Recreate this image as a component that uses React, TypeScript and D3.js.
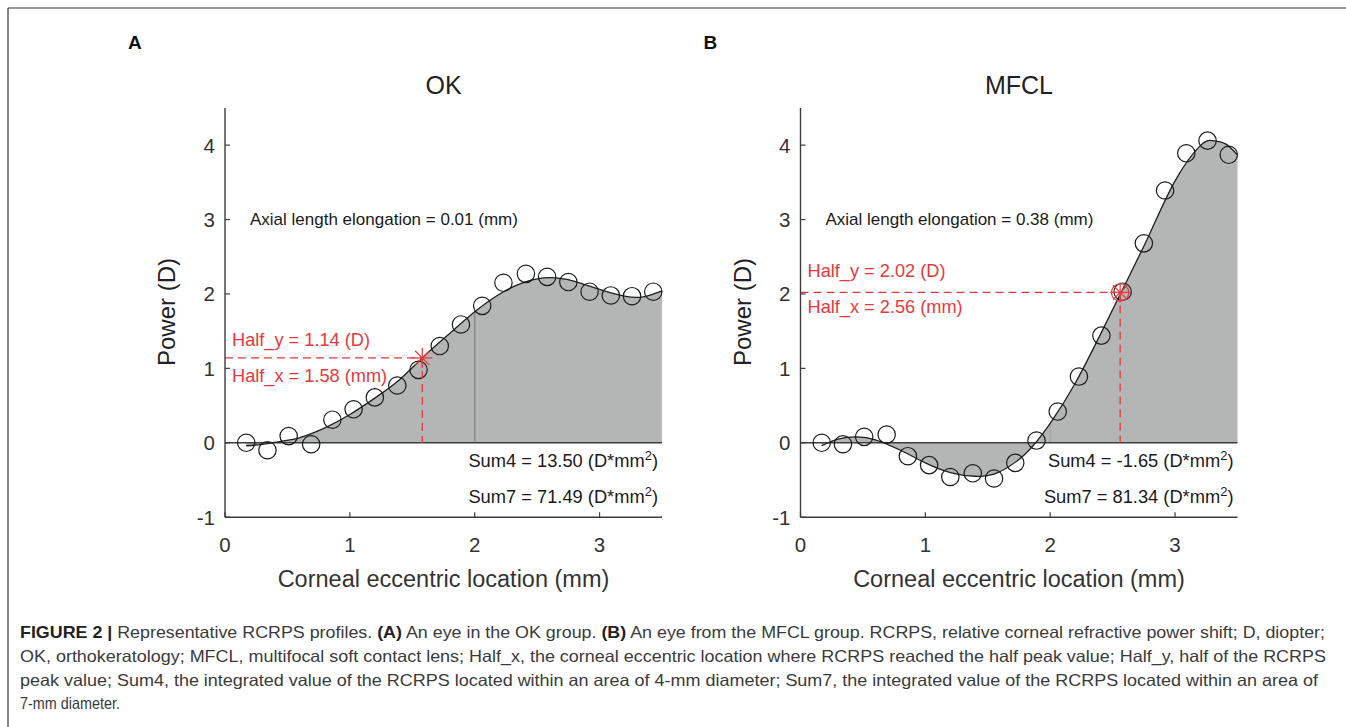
import React from "react";
import * as d3 from "d3";

// ---------- data ----------
const pointX = [0.17, 0.34, 0.51, 0.69, 0.86, 1.03, 1.2, 1.38, 1.55, 1.72, 1.89, 2.06, 2.23, 2.41, 2.58, 2.75, 2.92, 3.09, 3.26, 3.43];
const okPointY = [0.0, -0.1, 0.09, -0.02, 0.31, 0.45, 0.61, 0.77, 0.98, 1.3, 1.59, 1.84, 2.15, 2.27, 2.23, 2.16, 2.03, 1.98, 1.97, 2.03];
const mfclPointY = [0.0, -0.02, 0.08, 0.11, -0.18, -0.3, -0.46, -0.41, -0.48, -0.27, 0.03, 0.42, 0.89, 1.44, 2.03, 2.68, 3.39, 3.89, 4.06, 3.87];

const okCurveX = [0.17, 0.3, 0.45, 0.6, 0.8, 1.0, 1.2, 1.4, 1.58, 1.8, 2.0, 2.2, 2.4, 2.6, 2.8, 3.0, 3.2, 3.35, 3.5];
const okCurveY = [-0.04, -0.02, 0.02, 0.07, 0.2, 0.38, 0.6, 0.85, 1.14, 1.47, 1.76, 2.0, 2.16, 2.22, 2.17, 2.06, 1.97, 1.96, 2.04];
const mfclCurveX = [0.17, 0.3, 0.45, 0.6, 0.8, 1.0, 1.2, 1.4, 1.58, 1.8, 2.0, 2.2, 2.4, 2.6, 2.8, 3.0, 3.2, 3.3, 3.4, 3.5];
const mfclCurveY = [-0.04, 0.05, 0.08, 0.04, -0.1, -0.27, -0.4, -0.45, -0.4, -0.15, 0.26, 0.8, 1.45, 2.13, 2.82, 3.52, 3.99, 4.06, 4.02, 3.87];

const xTicks = [0, 1, 2, 3];
const yTicks = [-1, 0, 1, 2, 3, 4];

const okHalf = { x: 1.58, y: 1.14 };
const mfclHalf = { x: 2.56, y: 2.02 };

const captionLines = [
  "FIGURE 2 | Representative RCRPS profiles. (A) An eye in the OK group. (B) An eye from the MFCL group. RCRPS, relative corneal refractive power shift; D, diopter;",
  "OK, orthokeratology; MFCL, multifocal soft contact lens; Half_x, the corneal eccentric location where RCRPS reached the half peak value; Half_y, half of the RCRPS",
  "peak value; Sum4, the integrated value of the RCRPS located within an area of 4-mm diameter; Sum7, the integrated value of the RCRPS located within an area of",
  "7-mm diameter.",
];

const FONT = "'Liberation Sans', Arial, Helvetica, sans-serif";
const RED = "#e8383d";
const GRAY_FILL = "#b4b6b5";

type PanelProps = {
  left: number;
  label: string;
  title: string;
  curveX: number[];
  curveY: number[];
  pointY: number[];
  half: { x: number; y: number };
  axial: string;
  sum4: string;
  sum7: string;
  halfTextTop: number;
  dividerColor: string;
  halfCircle: boolean;
};

function Panel(p: PanelProps) {
  const x = d3.scaleLinear().domain([0, 3.5]).range([p.left, p.left + 437]);
  const y = d3.scaleLinear().domain([-1, 4.5]).range([517.2, 107.9]);
  const pts = p.curveX.map((cx, i) => [cx, p.curveY[i]] as [number, number]);
  const line = d3.line<[number, number]>().x(d => x(d[0])).y(d => y(d[1])).curve(d3.curveNatural);
  const area = d3.area<[number, number]>().x(d => x(d[0])).y0(y(0)).y1(d => y(d[1])).curve(d3.curveNatural);
  const idx2 = p.curveX.indexOf(2.0);
  const y2 = p.curveY[idx2];
  const axisColor = "#3c3c3c";
  const hx = x(p.half.x), hy = y(p.half.y);
  const s = 10;
  const cx = (x(0) + x(3.5)) / 2;
  return (
    <g fontFamily={FONT}>
      <text x={p.left - 97} y={49} fontSize={19} fontWeight="bold" fill="#111">{p.label}</text>
      <text x={cx} y={94} fontSize={25} textAnchor="middle" fill="#222">{p.title}</text>
      <path d={area(pts) || ""} fill={GRAY_FILL} />
      <line x1={x(2)} x2={x(2)} y1={y(0)} y2={y(y2)} stroke={p.dividerColor} strokeWidth={1.6} />
      <line x1={x(0)} x2={x(3.5)} y1={y(0)} y2={y(0)} stroke={axisColor} strokeWidth={1.4} />
      <path d={line(pts) || ""} fill="none" stroke="#1e1e1e" strokeWidth={1.3} />
      {pointX.map((px, i) => (
        <circle key={i} cx={x(px)} cy={y(p.pointY[i])} r={8.7} fill="none" stroke="#1a1a1a" strokeWidth={1.2} />
      ))}
      {/* half lines */}
      <line x1={x(0)} x2={hx} y1={hy} y2={hy} stroke={RED} strokeWidth={1.3} strokeDasharray="8,5" />
      <line x1={hx} x2={hx} y1={hy} y2={y(0)} stroke={RED} strokeWidth={1.3} strokeDasharray="8,5" />
      <g stroke={RED} strokeWidth={1.2}>
        <line x1={hx - s} x2={hx + s} y1={hy} y2={hy} />
        <line x1={hx} x2={hx} y1={hy - s} y2={hy + s} />
        <line x1={hx - s * 0.72} x2={hx + s * 0.72} y1={hy - s * 0.72} y2={hy + s * 0.72} />
        <line x1={hx - s * 0.72} x2={hx + s * 0.72} y1={hy + s * 0.72} y2={hy - s * 0.72} />
      </g>
      {p.halfCircle && <circle cx={hx} cy={hy} r={8.7} fill="none" stroke={RED} strokeWidth={1.2} />}
      <text x={x(0) + 7} y={p.halfTextTop} fontSize={18.2} fill={RED}>{`Half_y = ${p.half.y.toFixed(2)} (D)`}</text>
      <text x={x(0) + 7} y={p.halfTextTop + 36} fontSize={18.2} fill={RED}>{`Half_x = ${p.half.x.toFixed(2)} (mm)`}</text>
      {/* axes */}
      <line x1={x(0)} x2={x(0)} y1={y(4.5)} y2={y(-1)} stroke={axisColor} strokeWidth={1.4} />
      <line x1={x(0)} x2={x(3.5)} y1={y(-1)} y2={y(-1)} stroke={axisColor} strokeWidth={1.4} />
      {yTicks.map(t => (
        <g key={t}>
          <line x1={x(0)} x2={x(0) + 5} y1={y(t)} y2={y(t)} stroke={axisColor} strokeWidth={1.2} />
          <text x={x(0) - 10} y={y(t) + 7.5} fontSize={20.5} textAnchor="end" fill="#333">{t}</text>
        </g>
      ))}
      {xTicks.map(t => (
        <g key={t}>
          <line x1={x(t)} x2={x(t)} y1={y(-1)} y2={y(-1) - 5} stroke={axisColor} strokeWidth={1.2} />
          <text x={x(t)} y={y(-1) + 35} fontSize={20.5} textAnchor="middle" fill="#333">{t}</text>
        </g>
      ))}
      <text x={cx} y={587} fontSize={23.5} textAnchor="middle" fill="#333">Corneal eccentric location (mm)</text>
      <text transform={`translate(${x(0) - 50},312) rotate(-90)`} fontSize={24} textAnchor="middle" fill="#222">Power (D)</text>
      <text x={x(0) + 25} y={225} fontSize={17} fill="#1a1a1a">{p.axial}</text>
      <text x={x(3.5) - 4} y={467} fontSize={18.3} textAnchor="end" fill="#1a1a1a">
        {p.sum4 + " (D*mm"}<tspan dy={-7} fontSize={13}>2</tspan><tspan dy={7}>)</tspan>
      </text>
      <text x={x(3.5) - 4} y={503} fontSize={18.3} textAnchor="end" fill="#1a1a1a">
        {p.sum7 + " (D*mm"}<tspan dy={-7} fontSize={13}>2</tspan><tspan dy={7}>)</tspan>
      </text>
    </g>
  );
}

export default function App() {
  const captionY = [638, 662, 686, 709];
  const captionW = [1305, 1306, 1298, 100];
  return (
    <svg width={1346} height={727} style={{ position: "absolute", left: 0, top: 0, background: "#fff" }}>
      <rect width={1346} height={727} fill="#fff" />
      <line x1={8} x2={1346} y1={8} y2={8} stroke="#333" strokeWidth={1.2} />
      <line x1={8} x2={8} y1={8} y2={727} stroke="#333" strokeWidth={1.2} />
      <Panel left={225} label="A" title="OK" curveX={okCurveX} curveY={okCurveY} pointY={okPointY} half={okHalf}
        axial="Axial length elongation = 0.01 (mm)" sum4="Sum4 = 13.50" sum7="Sum7 = 71.49" halfTextTop={346}
        dividerColor="#8a8c8b" halfCircle={false} />
      <Panel left={800.5} label="B" title="MFCL" curveX={mfclCurveX} curveY={mfclCurveY} pointY={mfclPointY} half={mfclHalf}
        axial="Axial length elongation = 0.38 (mm)" sum4="Sum4 = -1.65" sum7="Sum7 = 81.34" halfTextTop={277}
        dividerColor="#a6a8a7" halfCircle={true} />
      <g fontFamily={FONT} fontSize={16.5} fill="#3a3a3a">
        {captionLines.map((ln, i) => {
          const w = captionW[i];
          if (i === 0) {
            const parts = ln.split(/(FIGURE 2 \||\(A\)|\(B\))/).filter(s => s.length);
            return (
              <text key={i} x={20} y={captionY[i]} textLength={w} lengthAdjust="spacingAndGlyphs">
                {parts.map((s, j) => {
                  const b = /^(FIGURE|\(A\)|\(B\))/.test(s);
                  return <tspan key={j} fontWeight={b ? "bold" : "normal"} fill={b ? "#222" : undefined}>{s}</tspan>;
                })}
              </text>
            );
          }
          return <text key={i} x={20} y={captionY[i]} textLength={w} lengthAdjust="spacingAndGlyphs">{ln}</text>;
        })}
      </g>
    </svg>
  );
}
